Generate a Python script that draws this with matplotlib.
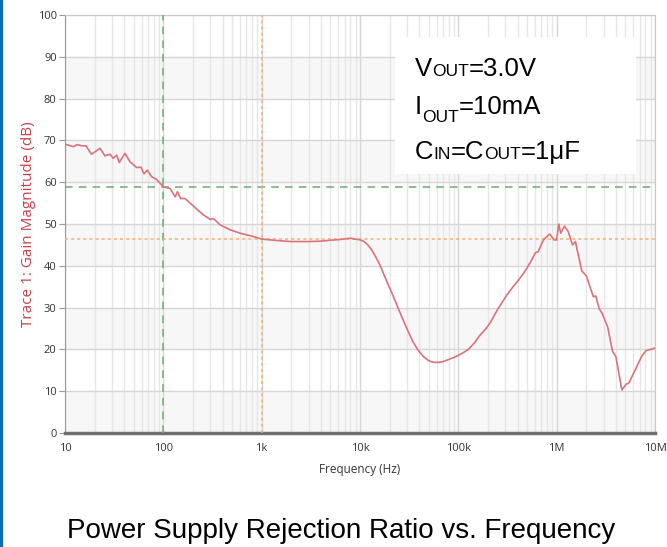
import numpy as np
import matplotlib
matplotlib.use('Agg')
import matplotlib.pyplot as plt
from matplotlib.patches import Rectangle

# PSRR curve (Hz, dB)
freq = [10, 12.2, 13.3, 14.8, 16.3, 18.6, 20, 22.7, 25.5, 28.7, 31, 33.5, 35.6,
        40.7, 45.8, 53.6, 59.3, 63.6, 68.7, 76, 85, 100, 117, 132, 139, 150, 166,
        202, 255, 300, 324, 378, 478, 604, 823, 1000, 1500, 2000, 3000, 4000, 5000,
        6300, 8000, 10000, 11000, 12000, 13000, 14000, 15500, 17300, 19500, 21900,
        24500, 27500, 31000, 34600, 39000, 44000, 50000, 56000, 63000, 70000, 80000,
        95000, 110000, 125000, 145000, 166000, 190000, 210000, 250000, 311000,
        360000, 410000, 460000, 500000, 560000, 606000,
        650000, 700000, 740000, 850000, 940000, 1000000, 1050000, 1100000, 1200000,
        1310000, 1450000, 1550000, 1800000, 2000000, 2360000, 2500000, 2700000,
        2900000, 3300000, 3700000, 4000000, 4600000, 5100000, 5400000, 6300000,
        7300000, 8100000, 10000000]
gain = [69.1, 68.5, 69.0, 68.7, 68.7, 66.7, 67.2, 68.1, 66.3, 66.7, 65.7, 66.5, 64.7,
        66.9, 64.9, 63.5, 63.6, 62.0, 62.9, 61.3, 60.7, 58.9, 58.5, 56.5, 57.7, 56.1, 56.1,
        54.3, 52.2, 51.1, 51.3, 49.8, 48.6, 47.8, 47.0, 46.4, 46.0, 45.8, 45.8, 45.9, 46.1,
        46.3, 46.6, 46.2, 45.8, 45.0, 44.0, 42.7, 40.8, 38.2, 35.3, 32.6,
        29.8, 27.0, 24.2, 21.8, 19.8, 18.3, 17.3, 16.9, 16.9, 17.1, 17.6,
        18.3, 19.1, 19.9, 21.5, 23.4, 24.9, 26.3, 29.5, 33.0,
        35.0, 36.6, 38.2, 39.5, 41.5, 43.1,
        43.4, 45.2, 46.3, 47.6, 46.2, 46.2, 50.0, 47.8, 49.5,
        48.2, 45.0, 45.8, 38.8, 37.6, 32.6, 32.8, 29.8,
        28.6, 25.4, 19.5, 18.3, 10.3, 11.7, 11.9, 15.1,
        18.3, 19.7, 20.3]

# cursor markers
cursor1_f, cursor1_db = 100, 58.8
cursor2_f, cursor2_db = 1000, 46.4

xticks = [10, 100, 1e3, 1e4, 1e5, 1e6, 1e7]
xticklabels = ['10', '100', '1k', '10k', '100k', '1M', '10M']
yticks = list(range(0, 101, 10))

fig = plt.figure(figsize=(6.67, 5.47), dpi=100)
ax = fig.add_axes([65/667, 1 - 433/547, 590/667, 418/547])

# alternating bands
for lo in range(0, 100, 20):
    ax.axhspan(lo, lo + 10, color='#f7f7f7', zorder=0, lw=0)

ax.set_xscale('log')
ax.set_xlim(10, 1e7)
ax.set_ylim(0, 100)
ax.grid(True, which='major', axis='both', color='#d6d6d6', lw=1, zorder=1)
ax.grid(True, which='minor', axis='x', color='#e6e6e6', lw=1, zorder=1)
ax.set_axisbelow(True)

ax.axvline(cursor1_f, color='#6aae6a', ls=(0, (5, 4)), lw=1.1, zorder=3)
ax.axhline(cursor1_db, color='#6aae6a', ls=(0, (5, 4)), lw=1.1, zorder=3)
ax.axvline(cursor2_f, color='#f5b070', ls=(0, (2, 2)), lw=1.1, zorder=3)
ax.axhline(cursor2_db, color='#f5b070', ls=(0, (2, 2)), lw=1.1, zorder=3)

ax.plot(freq, gain, color='#d9737d', lw=1.2, zorder=4)

ax.set_xticks(xticks)
ax.set_xticklabels(xticklabels)
ax.set_yticks(yticks)
ax.tick_params(axis='x', which='both', length=0, pad=7, labelsize=8, labelcolor='#333333')
ax.tick_params(axis='y', length=4, color='#999999', pad=2, labelsize=8, labelcolor='#333333')
for lab in ax.get_xticklabels() + ax.get_yticklabels():
    lab.set_family('Open Sans')

ax.spines['bottom'].set_color('#707070')
ax.spines['bottom'].set_linewidth(2.5)
ax.spines['left'].set_color('#999999')
ax.spines['top'].set_color('#c8c8c8')
ax.spines['right'].set_color('#c8c8c8')

ax.set_xlabel('Frequency (Hz)', family='Open Sans', fontsize=8.5, color='#333333', labelpad=7)
ax.set_ylabel('Trace 1: Gain Magnitude (dB)', family='Open Sans', fontsize=11,
              color='#c8414b', va='center')
ax.yaxis.set_label_coords(-36/590, 0.5)

# white box behind the conditions text
fig.patches.append(Rectangle((395/667, 1 - 174/547), 241/667, 137/547,
                             transform=fig.transFigure, facecolor='white',
                             edgecolor='none', zorder=2))

renderer = fig.canvas.get_renderer()
big, small = 18.5, 12.5


def put_parts(x, y, parts):
    for s, size, dy in parts:
        t = fig.text(x, y + dy / 547, s, fontsize=size, va='baseline', ha='left',
                     family='Liberation Sans', color='black', zorder=5)
        bb = t.get_window_extent(renderer)
        x = fig.transFigure.inverted().transform((bb.x1, bb.y0))[0]


put_parts(415/667, 1 - 76/547, [('V', big, 0), ('OUT', small, 0), ('=3.0V', big, 0)])
put_parts(415/667, 1 - 114/547, [('I', big, 0), ('OUT', small, -8), ('=10mA', big, 0)])
put_parts(415/667, 1 - 159/547, [('C', big, 0), ('IN', small, 0), ('=C', big, 0),
                                 ('OUT', small, 0), ('=1\u03bcF', big, 0)])

fig.text(341/667, 1 - 538/547, 'Power Supply Rejection Ratio vs. Frequency',
         ha='center', va='baseline', fontsize=20, family='Liberation Sans')

# blue border on the left edge
fig.patches.append(Rectangle((0, 0), 2.5/667, 1, transform=fig.transFigure,
                             facecolor='#0a6fc2', edgecolor='none'))

fig.savefig('out.png', dpi=100)
